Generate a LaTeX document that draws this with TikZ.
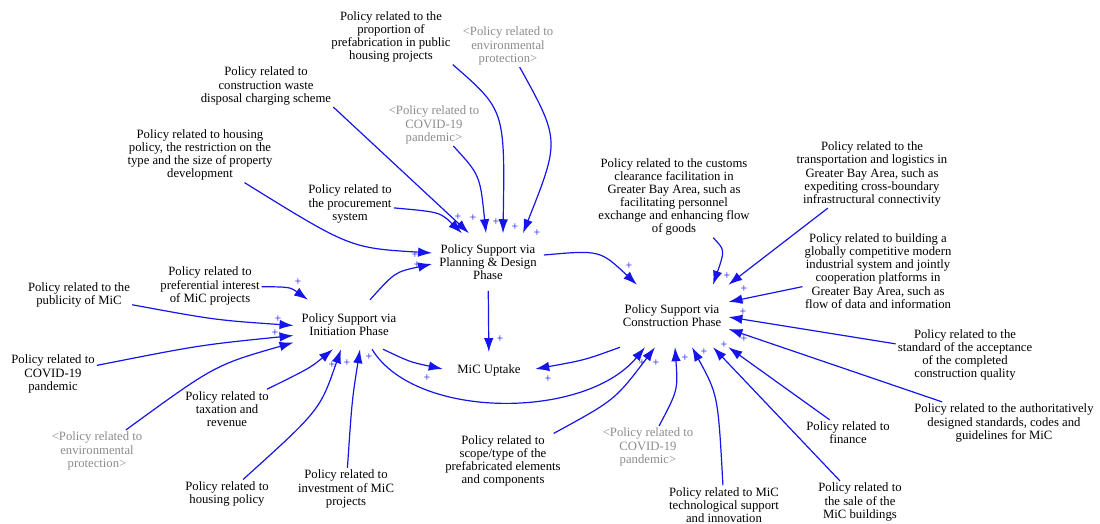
\documentclass[tikz,border=0pt]{standalone}
\usepackage{fontspec}
\setmainfont{Liberation Serif}
\usepackage{xcolor}
\usepackage{tikz}
\usetikzlibrary{arrows.meta}

\definecolor{linkblue}{RGB}{20,20,235}
\definecolor{shadowgray}{RGB}{140,140,140}

\begin{document}
\begin{tikzpicture}[x=1pt,y=-1pt,
		font=\fontsize{12.7}{13.1}\selectfont,
		pol/.style={align=center,inner sep=2pt},
		shadow/.style={pol,text=shadowgray},
		phase/.style={align=center,inner xsep=7pt},
		link/.style={draw=linkblue,line width=1.2pt,-{Latex[length=14pt,width=9.5pt]}},
		sgn/.style={text=linkblue,font=\fontsize{12}{12}\selectfont,inner sep=0pt}]
			\useasboundingbox (0,0) rectangle (1100,523);
			
			%phases
			\node[phase,inner ysep=11pt] (plan) at (488,262) {Policy Support via\\Planning \& Design\\Phase};
			\node[phase,inner xsep=8pt,inner ysep=13.5pt] (init) at (349,324.5) {Policy Support via\\Initiation Phase};
			\node[phase,inner ysep=20pt] (cons) at (672,316) {Policy Support via\\Construction Phase};
			\node[phase,inner xsep=14.5pt,inner ysep=12pt] (uptake) at (489,370) {MiC Uptake};
			
			%policies for planning
			\node[pol] (prop) at (391,37) {Policy related to the\\proportion of\\prefabrication in public\\housing projects};
			\node[shadow] (envT) at (508,46) {<Policy related to\\environmental\\protection>};
			\node[pol] (waste) at (266,86) {Policy related to\\construction waste\\disposal charging scheme};
			\node[shadow] (covT) at (434,125) {<Policy related to\\COVID-19\\pandemic>};
			\node[pol] (restr) at (200,155) {Policy related to housing\\policy, the restriction on the\\type and the size of property\\development};
			\node[pol] (proc) at (350,204) {Policy related to\\the procurement\\system};
			
			%policies for initiation
			\node[pol] (pref) at (210,286) {Policy related to\\preferential interest\\of MiC projects};
			\node[pol] (publ) at (79,295) {Policy related to the\\publicity of MiC};
			\node[pol] (covL) at (53,374) {Policy related to\\COVID-19\\pandemic};
			\node[pol] (tax) at (227,409) {Policy related to\\taxation and\\revenue};
			\node[shadow] (envL) at (97,451) {<Policy related to\\environmental\\protection>};
			\node[pol] (hous) at (227,494) {Policy related to\\housing policy};
			\node[pol] (inv) at (346,489) {Policy related to\\investment of MiC\\projects};
			
			%policies for construction
			\node[pol] (scope) at (503,461) {Policy related to\\scope/type of the\\prefabricated elements\\and components};
			\node[shadow] (covC) at (648,447) {<Policy related to\\COVID-19\\pandemic>};
			\node[pol] (tech) at (724,505) {Policy related to MiC\\technological support\\and innovation};
			\node[pol] (sale) at (860,502) {Policy related to\\the sale of the\\MiC buildings};
			\node[pol] (fin) at (848,433) {Policy related to\\finance};
			\node[pol] (auth) at (1004,423) {Policy related to the authoritatively\\designed standards, codes and\\guidelines for MiC};
			\node[pol] (std) at (965,355) {Policy related to the\\standard of the acceptance\\of the completed\\construction quality};
			\node[pol] (build) at (878,271) {Policy related to building a\\globally competitive modern\\industrial system and jointly\\cooperation platforms in\\Greater Bay Area, such as\\flow of data and information};
			\node[pol] (trans) at (872,174) {Policy related to the\\transportation and logistics in\\Greater Bay Area, such as\\expediting cross-boundary\\infrastructural connectivity};
			\node[pol] (cust) at (674,197) {Policy related to the customs\\clearance facilitation in\\Greater Bay Area, such as\\facilitating personnel\\exchange and enhancing flow\\of goods};
			
			%links to planning
			\draw[link] (waste.south east) -- ([xshift=-19pt]plan.north);
			\draw[link] (proc) .. controls (440,212) .. ([xshift=-26pt]plan.north);
			\draw[link] (restr) .. controls (350,248) .. ([yshift=9pt]plan.west);
			\draw[link] (covT) .. controls (480,175) .. ([xshift=-2pt]plan.north);
			\draw[link] (prop.south east) .. controls (505,110) .. ([xshift=15pt]plan.north);
			\draw[link] (envT) .. controls (560,140) .. ([xshift=35pt]plan.north);
			\draw[link] ([xshift=21pt]init.north) .. controls (395,272) .. ([yshift=-2pt]plan.west);
			\draw[link] ([yshift=7pt]plan.east) .. controls (600,250) .. ([xshift=-35pt]cons.north);
			\draw[link] (plan) -- (uptake);
			
			%links to initiation
			\draw[link] (pref) .. controls (290,287) .. ([xshift=-41pt]init.north);
			\draw[link] (publ) .. controls (215,320) .. ([yshift=-1pt]init.west);
			\draw[link] (covL) .. controls (200,345) .. ([yshift=-11pt]init.west);
			\draw[link] (envL) .. controls (215,365) .. ([yshift=-18pt]init.west);
			\draw[link] (tax) .. controls (310,368) .. ([xshift=-16pt]init.south);
			\draw[link] (hous) .. controls (320,410) .. ([xshift=-8pt]init.south);
			\draw[link] (inv) .. controls (352,400) .. ([xshift=11pt]init.south);
			\draw[link] ([xshift=34pt]init.south) .. controls (410,362) .. ([yshift=1pt]uptake.west);
			\draw[link] ([xshift=23pt]init.south) .. controls (415,420) and (585,420) .. ([xshift=-27pt]cons.south);
			
			%links to construction
			\draw[link] ([xshift=-52pt]cons.south) .. controls (585,360) .. ([yshift=1pt]uptake.east);
			\draw[link] (scope) .. controls (615,400) .. ([xshift=-17pt]cons.south);
			\draw[link] (covC) .. controls (678,390) .. ([xshift=3pt]cons.south);
			\draw[link] (tech) .. controls (718,395) .. ([xshift=20pt]cons.south);
			\draw[link] (sale) -- ([xshift=41pt]cons.south);
			\draw[link] (fin) -- (cons.south east);
			\draw[link] (auth) -- ([yshift=-13pt]cons.east);
			\draw[link] (std) -- ([yshift=-1pt]cons.east);
			\draw[link] (build) -- ([yshift=14pt]cons.east);
			\draw[link] (trans) -- (cons.north east);
			\draw[link] (cust) .. controls (725,250) .. ([xshift=41pt]cons.north);
			
			%polarities
			\foreach \x/\y [count=\i] in {458/217,473/218,496/222,515/227,537/233,415/255,417/265,629/266,500/339,
				298/282,278/319,275/333,332/365,347/363,369/357,427/378,548/379,
				642/363,656/363,685/358,704/352,724/345,744/339,743/312,741/302,744/289,727/276}{
				\node[sgn] (sgn\i) at (\x,\y) {+};
			}
		
		\end{tikzpicture}
\end{document}
